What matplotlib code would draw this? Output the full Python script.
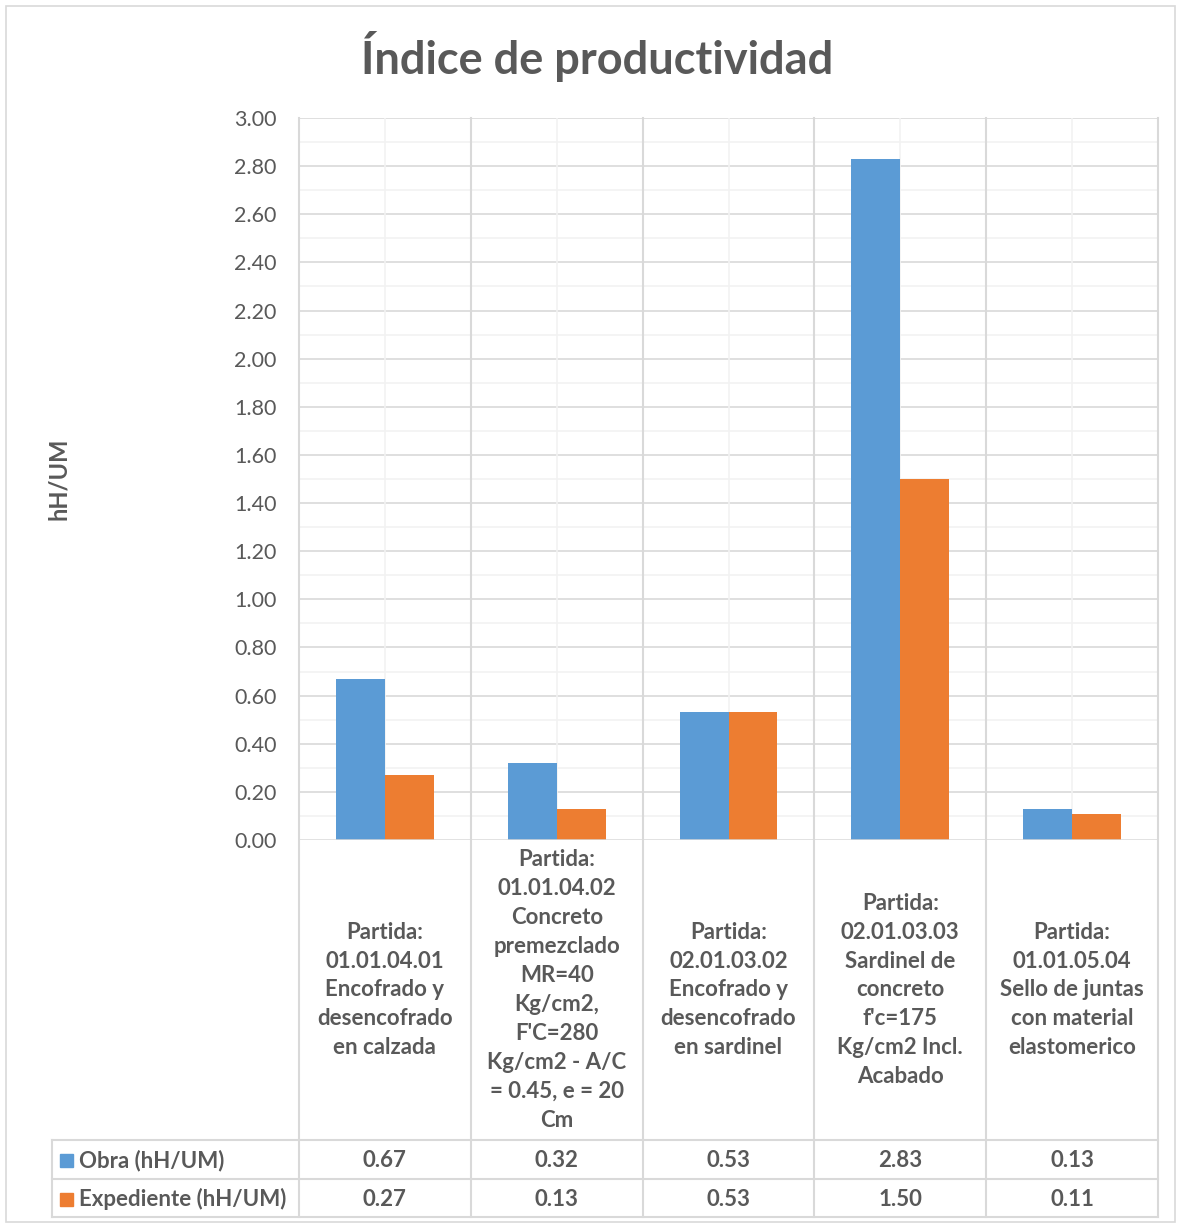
import numpy as np
import matplotlib.pyplot as plt
from matplotlib.patches import Rectangle
from matplotlib.ticker import MultipleLocator
import matplotlib.transforms as mtransforms

plt.rcParams['font.family'] = ['Lato', 'DejaVu Sans']

# Datos del gráfico
partidas = [
    "Partida:\n01.01.04.01\nEncofrado y\ndesencofrado\nen calzada",
    "Partida:\n01.01.04.02\nConcreto\npremezclado\nMR=40\nKg/cm2,\nF'C=280\nKg/cm2 - A/C\n= 0.45, e = 20\nCm",
    "Partida:\n02.01.03.02\nEncofrado y\ndesencofrado\nen sardinel",
    "Partida:\n02.01.03.03\nSardinel de\nconcreto\nf'c=175\nKg/cm2 Incl.\nAcabado",
    "Partida:\n01.01.05.04\nSello de juntas\ncon material\nelastomerico",
]
series_names = ["Obra (hH/UM)", "Expediente (hH/UM)"]
obra = [0.67, 0.32, 0.53, 2.83, 0.13]
expediente = [0.27, 0.13, 0.53, 1.50, 0.11]

blue = '#5B9BD5'
orange = '#ED7D31'
gray_text = '#595959'
grid_major = '#D9D9D9'
grid_minor = '#F2F2F2'

W, H = 1177, 1223
fig = plt.figure(figsize=(W / 100, H / 100), dpi=100)

# área del gráfico (en píxeles)
left, right, top, bottom = 299, 1158, 118, 840
ax = fig.add_axes([left / W, 1 - bottom / H, (right - left) / W, (bottom - top) / H])

x = np.arange(len(partidas))
bw = 0.285
ax.bar(x - bw / 2, obra, bw, color=blue, zorder=3)
ax.bar(x + bw / 2, expediente, bw, color=orange, zorder=3)

ax.set_xlim(-0.5, len(partidas) - 0.5)
ax.set_ylim(0, 3.0)
ax.yaxis.set_major_locator(MultipleLocator(0.2))
ax.yaxis.set_minor_locator(MultipleLocator(0.1))
ax.yaxis.set_major_formatter(lambda v, p: f'{v:.2f}')
ax.set_xticks([])
ax.tick_params(axis='y', which='both', length=0, pad=16, labelsize=15.5, labelcolor=gray_text)
for s in ax.spines.values():
    s.set_visible(False)

# rejilla
for v in np.arange(0.1, 3.01, 0.2):
    ax.axhline(v, color=grid_minor, lw=1.2, zorder=1)
for v in np.arange(0.2, 3.01, 0.2):
    ax.axhline(v, color=grid_major, lw=1.2, zorder=1)
for xi in x:
    ax.axvline(xi, color=grid_minor, lw=1.2, zorder=1)
ax.axhline(0, color=grid_major, lw=1.8, zorder=4)

# tabla de datos debajo del gráfico
trans = mtransforms.blended_transform_factory(ax.transData, fig.transFigure)
def fy(py):
    return 1 - py / H

row1, row2, row3 = 1140, 1179, 1217
table_left = 52
for b in np.arange(-0.5, len(partidas), 1.0):
    ax.plot([b, b], [fy(top), fy(row3)], color=grid_major, lw=1.5,
            transform=trans, clip_on=False, zorder=1)
for py in (row1, row2, row3):
    fig.add_artist(plt.Line2D([table_left / W, right / W], [fy(py), fy(py)],
                              color=grid_major, lw=1.5))
fig.add_artist(plt.Line2D([table_left / W, table_left / W], [fy(row1), fy(row3)],
                          color=grid_major, lw=1.5))

for xi, lab in zip(x, partidas):
    ax.text(xi, fy((bottom + row1) / 2), lab, transform=trans, ha='center', va='center',
            fontsize=16, fontweight='bold', color=gray_text, linespacing=1.465)

rows = [(series_names[0], obra, blue, row1, row2), (series_names[1], expediente, orange, row2, row3)]
for name, vals, col, y0, y1 in rows:
    yc = fy((y0 + y1) / 2 + 1)
    fig.add_artist(Rectangle((60 / W, yc - 6.5 / H), 13 / W, 13 / H, color=col,
                             transform=fig.transFigure))
    fig.text(79 / W, yc, name, ha='left', va='center', fontsize=16,
             fontweight='bold', color=gray_text)
    for xi, v in zip(x, vals):
        ax.text(xi, yc, f'{v:.2f}', transform=trans, ha='center', va='center',
                fontsize=16, fontweight='bold', color=gray_text)

fig.text(597 / W, fy(57), 'Índice de productividad', ha='center', va='center',
         fontsize=32.5, fontweight='bold', color=gray_text)
fig.text(58 / W, fy(479), 'hH/UM', ha='center', va='center', rotation=90,
         fontsize=17, fontweight='bold', color=gray_text)

# borde del gráfico
fig.add_artist(Rectangle((6 / W, 1 / H), (W - 8) / W, (H - 7) / H, fill=False,
                         edgecolor=grid_major, lw=1.2, transform=fig.transFigure))

fig.savefig('out.png', dpi=100)
